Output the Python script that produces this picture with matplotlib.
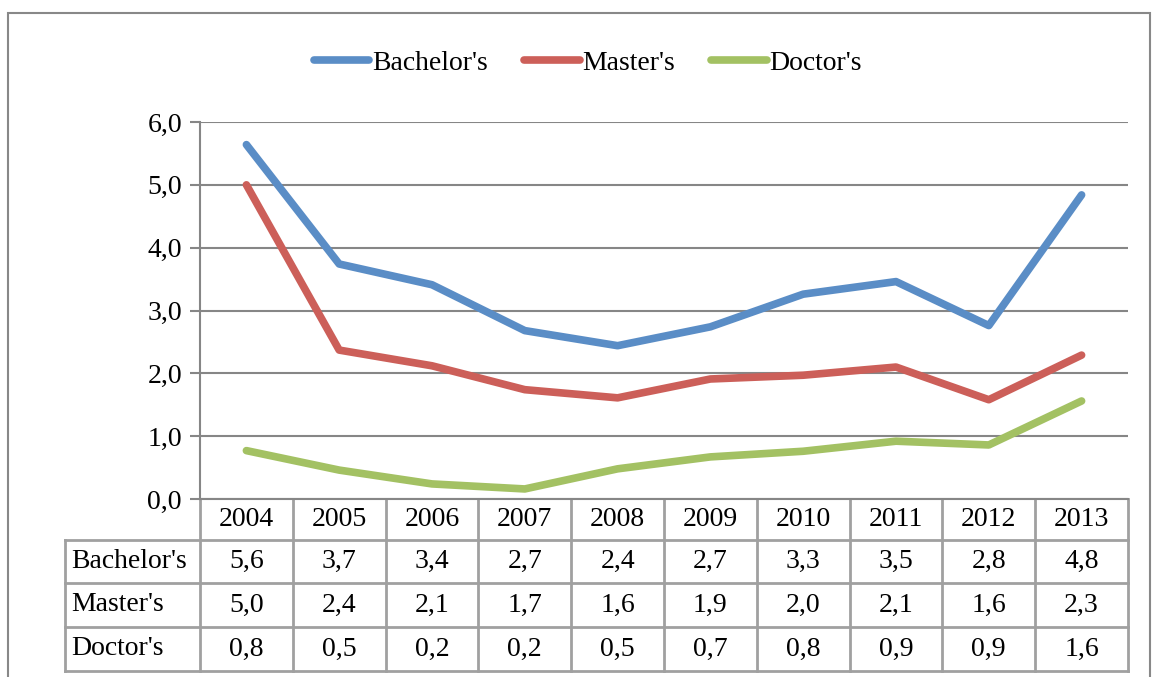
import numpy as np
import matplotlib.pyplot as plt
from matplotlib.transforms import blended_transform_factory
from matplotlib.patches import Rectangle
from matplotlib.ticker import FuncFormatter

# data
years = ['2004', '2005', '2006', '2007', '2008', '2009', '2010', '2011', '2012', '2013']
bachelor = [5.64, 3.74, 3.41, 2.68, 2.44, 2.74, 3.26, 3.46, 2.76, 4.84]
master = [5.0, 2.37, 2.12, 1.74, 1.61, 1.91, 1.97, 2.10, 1.58, 2.29]
doctor = [0.77, 0.46, 0.24, 0.16, 0.48, 0.67, 0.76, 0.92, 0.86, 1.56]
names = ["Bachelor's", "Master's", "Doctor's"]
colors = ['#5A8DC6', '#CC5F59', '#A3C163']

plt.rcParams['font.family'] = 'Liberation Serif'
fs = 20

fig = plt.figure(figsize=(11.58, 6.77), dpi=100)
W, H = 1158, 677
ax = fig.add_axes([200 / W, 1 - 499 / H, 928 / W, 377 / H])

x = np.arange(len(years))
for vals, name, c in zip([bachelor, master, doctor], names, colors):
    ax.plot(x, vals, color=c, linewidth=5.5, solid_capstyle='round', label=name)

ax.set_xlim(-0.5, len(years) - 0.5)
ax.set_ylim(0, 6)
ax.set_yticks(np.arange(0, 7, 1))
ax.yaxis.set_major_formatter(FuncFormatter(lambda v, p: f'{v:.1f}'.replace('.', ',')))
ax.tick_params(axis='y', labelsize=fs, length=7, width=1.5, color='#868686', pad=6)
ax.set_xticks([])
ax.grid(axis='y', color='#868686', linewidth=1.5)
ax.set_axisbelow(True)
for s in ['top', 'right']:
    ax.spines[s].set_visible(False)
for s in ['left', 'bottom']:
    ax.spines[s].set_color('#868686')
    ax.spines[s].set_linewidth(1.5)

# data table under the axis
tr = blended_transform_factory(ax.transData, ax.transAxes)
rows = [0, -0.1088, -0.2228, -0.3395, -0.4562]
lab_left = -135 / 928
lc = '#A0A0A0'
lw = 2
for i in range(len(years) + 1):
    ax.plot([i - 0.5, i - 0.5], [rows[0], rows[-1]], transform=tr, color=lc, lw=lw, clip_on=False)
for r in rows[1:]:
    ax.plot([lab_left, 1], [r, r], transform=ax.transAxes, color=lc, lw=lw, clip_on=False)
ax.plot([lab_left, lab_left], [rows[1], rows[-1]], transform=ax.transAxes, color=lc, lw=lw, clip_on=False)

for i, yr in enumerate(years):
    ax.text(i, (rows[0] + rows[1]) / 2, yr, transform=tr, ha='center', va='center', fontsize=fs)
for k, (vals, name) in enumerate(zip([bachelor, master, doctor], names)):
    yc = (rows[k + 1] + rows[k + 2]) / 2
    ax.text(lab_left + 0.007, yc, name, transform=ax.transAxes, ha='left', va='center', fontsize=fs)
    for i, v in enumerate(vals):
        ax.text(i, yc, f'{v:.1f}'.replace('.', ','), transform=tr, ha='center', va='center', fontsize=fs)

ax.legend(loc='center', bbox_to_anchor=(588 / W, 1 - 63 / H), bbox_transform=fig.transFigure,
          ncol=3, frameon=False, fontsize=fs, handlelength=2.0, handletextpad=0.1, columnspacing=1.3)

# outer chart frame
fig.patches.append(Rectangle((8 / W, -0.02), 1142 / W, 1.02 - 13 / H, transform=fig.transFigure,
                             fill=False, edgecolor='#888888', linewidth=1.5))

fig.savefig('out.png', dpi=100)
